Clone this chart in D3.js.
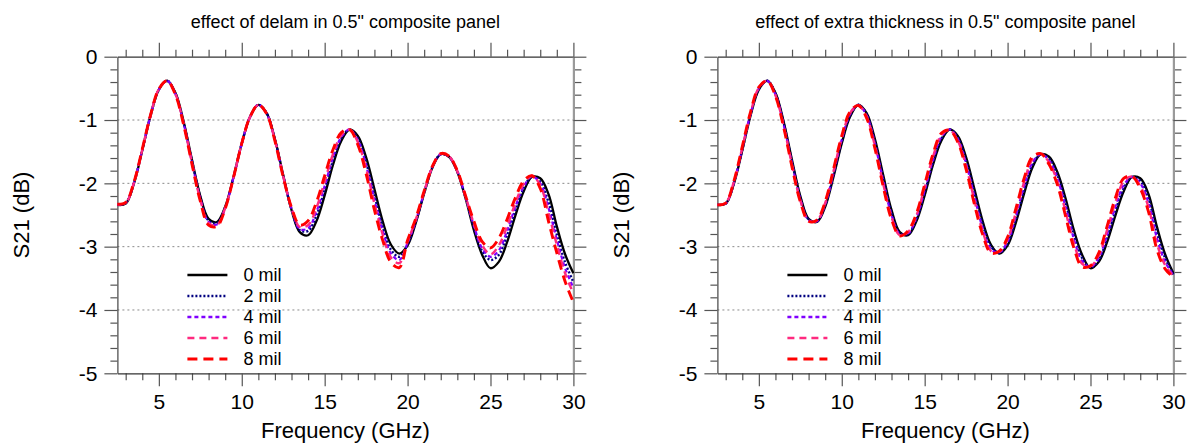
<!DOCTYPE html>
<html>
<head>
<meta charset="utf-8">
<script src="https://cdn.jsdelivr.net/npm/d3@7"></script>
<style>
body { margin: 0; background: #fff; }
svg { display: block; font-family: "Liberation Sans", Arial, Helvetica, sans-serif; }
</style>
</head>
<body>
<svg id="chart" width="1187" height="446"></svg>
<script>
// frequency grid (GHz)
const freq = [
    2.5, 3, 3.5, 4, 4.5, 5, 5.5,
    6, 6.5, 7, 7.5, 8, 8.5, 9,
    9.5, 10, 10.5, 11, 11.5, 12, 12.5,
    13, 13.5, 14, 14.5, 15, 15.5, 16,
    16.5, 17, 17.5, 18, 18.5, 19, 19.5,
    20, 20.5, 21, 21.5, 22, 22.5, 23,
    23.5, 24, 24.5, 25, 25.5, 26, 26.5,
    27, 27.5, 28, 28.5, 29, 29.5, 30,
]

// S21 (dB), 0 mil reference (same in both panels)
const s21_0mil = [
    -2.34, -2.32, -2.00, -1.48, -0.93, -0.52, -0.38,
    -0.57, -1.03, -1.63, -2.20, -2.56, -2.61, -2.37,
    -1.90, -1.37, -0.95, -0.76, -0.89, -1.30, -1.87,
    -2.42, -2.77, -2.82, -2.60, -2.19, -1.71, -1.33,
    -1.15, -1.25, -1.59, -2.09, -2.60, -2.97, -3.11,
    -2.98, -2.62, -2.16, -1.75, -1.54, -1.58, -1.82,
    -2.24, -2.74, -3.13, -3.34, -3.24, -2.93, -2.51,
    -2.13, -1.90, -1.92, -2.17, -2.68, -3.12, -3.42,
]

// left panel: delamination
const delam_2mil = [
    -2.34, -2.31, -1.99, -1.47, -0.93, -0.52, -0.38,
    -0.58, -1.05, -1.65, -2.22, -2.59, -2.63, -2.38,
    -1.90, -1.37, -0.95, -0.76, -0.89, -1.31, -1.88,
    -2.41, -2.74, -2.75, -2.51, -2.10, -1.64, -1.29,
    -1.15, -1.29, -1.67, -2.19, -2.69, -3.05, -3.16,
    -2.96, -2.60, -2.15, -1.74, -1.54, -1.58, -1.81,
    -2.23, -2.70, -3.07, -3.21, -3.13, -2.82, -2.43,
    -2.08, -1.89, -1.97, -2.30, -2.81, -3.25, -3.56,
]
const delam_4mil = [
    -2.34, -2.31, -1.99, -1.47, -0.93, -0.52, -0.38,
    -0.59, -1.06, -1.67, -2.24, -2.61, -2.65, -2.39,
    -1.91, -1.37, -0.95, -0.76, -0.90, -1.32, -1.89,
    -2.40, -2.72, -2.71, -2.45, -2.04, -1.59, -1.27,
    -1.15, -1.32, -1.72, -2.26, -2.75, -3.11, -3.21,
    -2.94, -2.59, -2.14, -1.74, -1.54, -1.58, -1.81,
    -2.22, -2.67, -3.03, -3.16, -3.06, -2.75, -2.37,
    -2.05, -1.89, -2.00, -2.39, -2.89, -3.34, -3.65,
]
const delam_6mil = [
    -2.33, -2.31, -1.99, -1.47, -0.92, -0.51, -0.38,
    -0.59, -1.07, -1.68, -2.26, -2.63, -2.66, -2.39,
    -1.91, -1.37, -0.95, -0.76, -0.90, -1.32, -1.89,
    -2.39, -2.69, -2.66, -2.39, -1.97, -1.54, -1.24,
    -1.15, -1.35, -1.77, -2.32, -2.81, -3.17, -3.26,
    -2.92, -2.57, -2.13, -1.74, -1.53, -1.57, -1.81,
    -2.21, -2.64, -2.98, -3.12, -2.98, -2.68, -2.31,
    -2.01, -1.88, -2.03, -2.47, -2.97, -3.42, -3.74,
]
const delam_8mil = [
    -2.33, -2.30, -1.98, -1.46, -0.92, -0.51, -0.38,
    -0.60, -1.08, -1.70, -2.28, -2.66, -2.68, -2.40,
    -1.91, -1.37, -0.95, -0.76, -0.90, -1.33, -1.90,
    -2.38, -2.66, -2.59, -2.30, -1.88, -1.47, -1.20,
    -1.15, -1.39, -1.85, -2.42, -2.90, -3.25, -3.33,
    -2.90, -2.55, -2.12, -1.73, -1.53, -1.57, -1.80,
    -2.20, -2.60, -2.92, -3.02, -2.87, -2.57, -2.23,
    -1.96, -1.88, -2.08, -2.60, -3.10, -3.55, -3.88,
]

// right panel: extra thickness
const thick_2mil = [
    -2.34, -2.32, -1.99, -1.47, -0.92, -0.51, -0.38,
    -0.58, -1.05, -1.66, -2.22, -2.57, -2.60, -2.35,
    -1.87, -1.34, -0.93, -0.76, -0.91, -1.34, -1.92,
    -2.46, -2.79, -2.80, -2.57, -2.15, -1.67, -1.30,
    -1.15, -1.28, -1.64, -2.15, -2.65, -3.00, -3.10,
    -2.95, -2.57, -2.10, -1.71, -1.54, -1.61, -1.87,
    -2.31, -2.81, -3.18, -3.33, -3.21, -2.87, -2.44,
    -2.08, -1.90, -1.96, -2.24, -2.77, -3.18, -3.44,
]
const thick_4mil = [
    -2.34, -2.32, -1.98, -1.45, -0.90, -0.50, -0.38,
    -0.60, -1.08, -1.69, -2.25, -2.58, -2.60, -2.33,
    -1.84, -1.31, -0.91, -0.76, -0.93, -1.38, -1.96,
    -2.50, -2.80, -2.79, -2.54, -2.11, -1.63, -1.27,
    -1.15, -1.30, -1.69, -2.21, -2.71, -3.04, -3.09,
    -2.92, -2.51, -2.04, -1.67, -1.54, -1.64, -1.92,
    -2.38, -2.88, -3.23, -3.32, -3.17, -2.81, -2.37,
    -2.03, -1.90, -2.00, -2.31, -2.86, -3.24, -3.45,
]
const thick_6mil = [
    -2.34, -2.31, -1.97, -1.44, -0.89, -0.49, -0.38,
    -0.61, -1.10, -1.71, -2.27, -2.59, -2.59, -2.31,
    -1.81, -1.28, -0.89, -0.77, -0.95, -1.41, -2.01,
    -2.53, -2.82, -2.77, -2.51, -2.06, -1.58, -1.24,
    -1.16, -1.33, -1.73, -2.27, -2.76, -3.07, -3.08,
    -2.88, -2.46, -1.98, -1.62, -1.53, -1.67, -1.97,
    -2.45, -2.95, -3.27, -3.31, -3.14, -2.74, -2.30,
    -1.97, -1.89, -2.04, -2.38, -2.95, -3.29, -3.47,
]
const thick_8mil = [
    -2.34, -2.31, -1.96, -1.42, -0.87, -0.48, -0.38,
    -0.62, -1.12, -1.74, -2.29, -2.60, -2.58, -2.29,
    -1.78, -1.25, -0.87, -0.77, -0.97, -1.45, -2.05,
    -2.57, -2.83, -2.75, -2.48, -2.02, -1.54, -1.21,
    -1.16, -1.35, -1.78, -2.33, -2.81, -3.10, -3.07,
    -2.85, -2.40, -1.92, -1.58, -1.53, -1.70, -2.02,
    -2.52, -3.02, -3.32, -3.30, -3.10, -2.68, -2.23,
    -1.92, -1.89, -2.08, -2.45, -3.04, -3.35, -3.48,
]

const seriesLabels = ["0 mil", "2 mil", "4 mil", "6 mil", "8 mil"]
const titles = [
    'effect of delam in 0.5" composite panel',
    'effect of extra thickness in 0.5" composite panel',
]
const xTicks = [5, 10, 15, 20, 25, 30]
const yTicks = [0, -1, -2, -3, -4, -5]

// styling
const styles = [
    { colour: "#000000", dash: null, width: 2.3 },
    { colour: "#000080", dash: "2,2", width: 2.4 },
    { colour: "#7f00ff", dash: "4,3", width: 2.2 },
    { colour: "#ff2a7f", dash: "7,5", width: 2.4 },
    { colour: "#ff0000", dash: "10,6", width: 2.9 },
]
const plotW = 456
const plotTop = 56.7
const plotBottom = 373.3
const panelLefts = [117.4, 717.4]
const fontStack = '"Liberation Sans", Arial, Helvetica, sans-serif'

const svg = d3.select("#chart")

function drawPanel(left, title, series) {
    const x = d3.scaleLinear().domain([2.5, 30]).range([left, left + plotW])
    const y = d3.scaleLinear().domain([-5, 0]).range([plotBottom, plotTop])
    const g = svg.append("g")

    const xMinor = d3.range(3, 30).filter((d) => d % 5 !== 0)
    const yMinor = d3.range(1, 25).map((i) => -i * 0.2).filter((d) => Math.abs(d - Math.round(d)) > 0.01)

    // dotted grid
    g.append("g")
        .selectAll("line")
        .data([-1, -2, -3, -4])
        .join("line")
        .attr("x1", x(2.5))
        .attr("x2", x(30))
        .attr("y1", (d) => y(d))
        .attr("y2", (d) => y(d))
        .attr("stroke", "#8a8a8a")
        .attr("stroke-width", 1)
        .attr("stroke-dasharray", "2,3")

    const tickCol = "#555"
    const styleAxis = (sel, domainCol, domainW) => {
        sel.select(".domain").attr("stroke", domainCol).attr("stroke-width", domainW)
        sel.selectAll(".tick line").attr("stroke", tickCol).attr("stroke-width", 1.2)
    }
    const minor = (sel) => {
        sel.select(".domain").remove()
        sel.selectAll(".tick line").attr("stroke", tickCol).attr("stroke-width", 1.2)
    }

    // bottom
    const bottom = g.append("g").attr("transform", `translate(0,${plotBottom})`)
    bottom.append("g").call(d3.axisBottom(x).tickValues(xMinor).tickSize(7).tickFormat("")).call(minor)
    bottom.append("g")
        .call(d3.axisBottom(x).tickValues(xTicks).tickSize(13).tickSizeOuter(0).tickPadding(8).tickFormat((d) => String(d)))
        .call((s) => styleAxis(s, "#333", 1.2))
        .selectAll("text")
        .attr("font-size", 21)
        .attr("font-family", fontStack)
        .attr("fill", "#000")

    // top
    const top = g.append("g").attr("transform", `translate(0,${plotTop})`)
    top.append("g").call(d3.axisTop(x).tickValues(xMinor).tickSize(7).tickFormat("")).call(minor)
    top.append("g")
        .call(d3.axisTop(x).tickValues(xTicks).tickSize(14).tickSizeOuter(0).tickFormat(""))
        .call((s) => styleAxis(s, "#333", 1.2))

    // left
    const leftAx = g.append("g").attr("transform", `translate(${left},0)`)
    leftAx.append("g").call(d3.axisLeft(y).tickValues(yMinor).tickSize(7).tickFormat("")).call(minor)
    leftAx.append("g")
        .call(d3.axisLeft(y).tickValues(yTicks).tickSize(13).tickSizeOuter(0).tickPadding(7).tickFormat((d) => String(d)))
        .call((s) => styleAxis(s, "#444", 1.2))
        .selectAll("text")
        .attr("font-size", 21)
        .attr("font-family", fontStack)
        .attr("fill", "#000")

    // right
    const rightAx = g.append("g").attr("transform", `translate(${left + plotW},0)`)
    rightAx.append("g").call(d3.axisRight(y).tickValues(yMinor).tickSize(8).tickFormat("")).call(minor)
    rightAx.append("g")
        .call(d3.axisRight(y).tickValues(yTicks).tickSize(13).tickSizeOuter(0).tickFormat(""))
        .call((s) => styleAxis(s, "#9a9a9a", 2.2))

    // curves
    const line = d3
        .line()
        .x((d) => x(d[0]))
        .y((d) => y(d[1]))
        .curve(d3.curveCatmullRom.alpha(0.5))

    g.append("g")
        .selectAll("path")
        .data(series)
        .join("path")
        .attr("fill", "none")
        .attr("stroke", (d, i) => styles[i].colour)
        .attr("stroke-width", (d, i) => styles[i].width)
        .attr("stroke-dasharray", (d, i) => styles[i].dash)
        .attr("stroke-linejoin", "round")
        .attr("d", (vals) => line(freq.map((f, i) => [f, vals[i]])))

    // legend
    const leg = g.append("g")
        .selectAll("g")
        .data(seriesLabels)
        .join("g")
        .attr("transform", (d, i) => `translate(${left},${275 + i * 21})`)
    leg.append("line")
        .attr("x1", 70)
        .attr("x2", 110)
        .attr("stroke", (d, i) => styles[i].colour)
        .attr("stroke-width", (d, i) => styles[i].width + 0.3)
        .attr("stroke-dasharray", (d, i) => styles[i].dash)
    leg.append("text")
        .attr("x", 126)
        .attr("dy", "0.35em")
        .attr("font-size", 18)
        .attr("fill", "#000")
        .text((d) => d)

    // titles
    g.append("text")
        .attr("x", left + plotW / 2)
        .attr("y", 28)
        .attr("text-anchor", "middle")
        .attr("font-size", 18)
        .text(title)

    g.append("text")
        .attr("x", left + plotW / 2)
        .attr("y", 438)
        .attr("text-anchor", "middle")
        .attr("font-size", 22)
        .text("Frequency (GHz)")

    g.append("text")
        .attr("transform", `translate(${left - 96},${(plotTop + plotBottom) / 2}) rotate(-90)`)
        .attr("text-anchor", "middle")
        .attr("dy", "0.35em")
        .attr("font-size", 22)
        .text("S21 (dB)")
}

drawPanel(panelLefts[0], titles[0], [s21_0mil, delam_2mil, delam_4mil, delam_6mil, delam_8mil])
drawPanel(panelLefts[1], titles[1], [s21_0mil, thick_2mil, thick_4mil, thick_6mil, thick_8mil])
</script>
</body>
</html>
